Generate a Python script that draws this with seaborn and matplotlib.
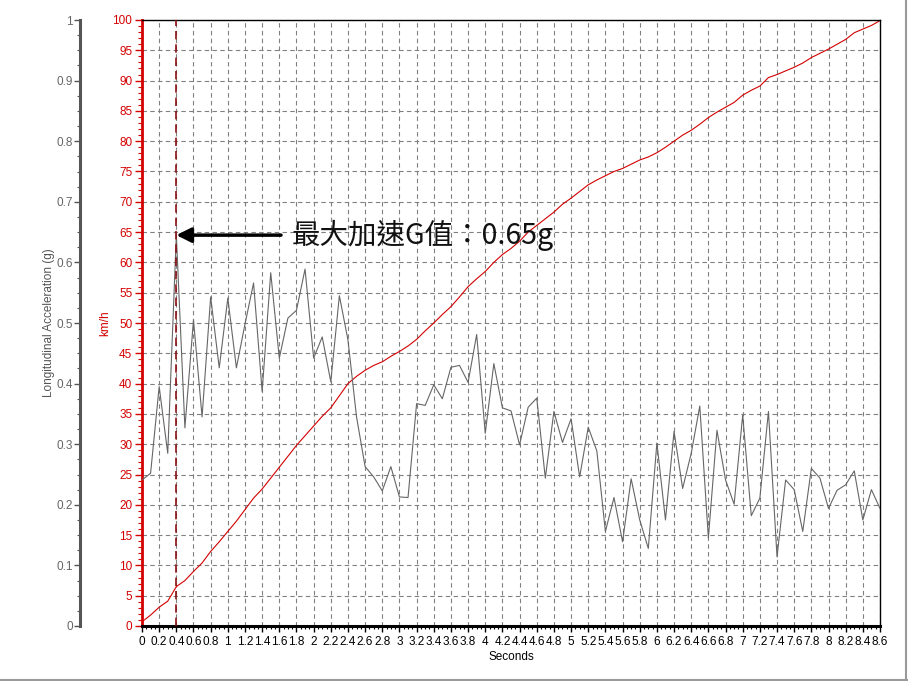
import numpy as np
import pandas as pd
import matplotlib
matplotlib.use("Agg")
import matplotlib.pyplot as plt
import seaborn as sns
from matplotlib.ticker import AutoMinorLocator, MultipleLocator, FuncFormatter
from matplotlib.lines import Line2D

sns.set_theme(style="white")
plt.rcParams['font.family'] = ['Liberation Sans', 'Noto Sans CJK TC', 'DejaVu Sans']

seconds = [0.0, 0.1, 0.2, 0.3, 0.4, 0.5, 0.6, 0.7, 0.8, 0.9,
           1.0, 1.1, 1.2, 1.3, 1.4, 1.5, 1.6, 1.7, 1.8, 1.9,
           2.0, 2.1, 2.2, 2.3, 2.4, 2.5, 2.6, 2.7, 2.8, 2.9,
           3.0, 3.1, 3.2, 3.3, 3.4, 3.5, 3.6, 3.7, 3.8, 3.9,
           4.0, 4.1, 4.2, 4.3, 4.4, 4.5, 4.6, 4.7, 4.8, 4.9,
           5.0, 5.1, 5.2, 5.3, 5.4, 5.5, 5.6, 5.7, 5.8, 5.9,
           6.0, 6.1, 6.2, 6.3, 6.4, 6.5, 6.6, 6.7, 6.8, 6.9,
           7.0, 7.1, 7.2, 7.3, 7.4, 7.5, 7.6, 7.7, 7.8, 7.9,
           8.0, 8.1, 8.2, 8.3, 8.4, 8.5, 8.6]

accel_g = [0.241, 0.252, 0.395, 0.285, 0.645, 0.327, 0.505, 0.345, 0.543, 0.426,
           0.541, 0.426, 0.498, 0.566, 0.387, 0.583, 0.442, 0.508, 0.521, 0.589,
           0.442, 0.477, 0.403, 0.545, 0.472, 0.345, 0.263, 0.246, 0.223, 0.263,
           0.213, 0.212, 0.367, 0.364, 0.398, 0.375, 0.427, 0.430, 0.402, 0.481,
           0.318, 0.433, 0.360, 0.355, 0.299, 0.361, 0.376, 0.244, 0.354, 0.303,
           0.342, 0.246, 0.328, 0.289, 0.156, 0.212, 0.139, 0.243, 0.175, 0.128,
           0.302, 0.175, 0.321, 0.227, 0.285, 0.363, 0.145, 0.323, 0.241, 0.201,
           0.348, 0.182, 0.211, 0.354, 0.114, 0.241, 0.225, 0.156, 0.260, 0.244,
           0.194, 0.224, 0.233, 0.256, 0.175, 0.225, 0.194]

speed_kmh = [0.7, 1.8, 3.1, 4.1, 6.5, 7.5, 9.0, 10.4, 12.3, 13.9,
             15.6, 17.3, 19.2, 21.1, 22.6, 24.4, 26.2, 28.0, 29.8, 31.4,
             33.0, 34.6, 36.0, 38.0, 40.0, 41.2, 42.2, 43.0, 43.6, 44.5,
             45.3, 46.2, 47.3, 48.7, 50.0, 51.4, 52.7, 54.3, 56.0, 57.3,
             58.5, 60.0, 61.3, 62.3, 63.5, 65.0, 66.1, 67.2, 68.3, 69.6,
             70.6, 71.7, 72.8, 73.6, 74.3, 75.0, 75.5, 76.2, 76.9, 77.4,
             78.1, 79.0, 80.0, 81.0, 81.8, 82.8, 83.9, 84.8, 85.6, 86.4,
             87.6, 88.4, 89.1, 90.5, 91.0, 91.6, 92.2, 92.9, 93.8, 94.5,
             95.2, 96.0, 96.8, 97.9, 98.5, 99.1, 99.9]

peak_time = 0.4
peak_g = 0.645
peak_text = "最大加速G值：0.65g"

df = pd.DataFrame({"Seconds": seconds, "accel": accel_g, "speed": speed_kmh})

RED = "#d40000"
GRAY_LINE = "#666666"

fig = plt.figure(figsize=(9.08, 6.81), dpi=100)
ax = fig.add_axes([142 / 908, 55 / 681, 738 / 908, 606 / 681])

# speed (km/h) on the inner red axis
sns.lineplot(data=df, x="Seconds", y="speed", ax=ax, color=RED, lw=0.8)
ax.set_xlim(0, 8.6)
ax.set_ylim(0, 100)

# acceleration (g) on the outer gray axis
ax2 = ax.twinx()
sns.lineplot(data=df, x="Seconds", y="accel", ax=ax2, color=GRAY_LINE, lw=0.8)
ax2.set_ylim(0, 1)
ax2.set_xlim(0, 8.6)

# grid
ax.xaxis.set_major_locator(MultipleLocator(0.2))
ax.xaxis.set_minor_locator(MultipleLocator(0.05))
ax.yaxis.set_major_locator(MultipleLocator(5))
ax.yaxis.set_minor_locator(AutoMinorLocator(5))
ax.grid(True, which="major", color="#808080", linestyle=(0, (4, 3)), lw=0.8)
ax.set_axisbelow(True)

fmt = FuncFormatter(lambda v, p: f"{v:.1f}".rstrip("0").rstrip("."))
ax.xaxis.set_major_formatter(fmt)
ax.tick_params(axis="x", which="major", bottom=True, length=4, width=1, color="black",
               labelsize=8.5, pad=3, labelcolor="black")
ax.tick_params(axis="x", which="minor", bottom=True, length=2, width=0.8, color="black")
ax.tick_params(axis="y", which="major", left=True, length=5, width=1, color=RED,
               labelsize=8.5, labelcolor=RED, pad=2)
ax.tick_params(axis="y", which="minor", left=True, length=3, width=0.8, color=RED)

ax.set_xlabel("Seconds", fontsize=8.5, color="black", labelpad=2)
ax.set_ylabel("km/h", fontsize=8.5, color=RED, labelpad=1)

for side in ["top", "right"]:
    ax.spines[side].set_color("black")
    ax.spines[side].set_linewidth(1)
ax.spines["bottom"].set_color("black")
ax.spines["bottom"].set_linewidth(2.2)
ax.spines["left"].set_color(RED)
ax.spines["left"].set_linewidth(2)

# outer acceleration axis on the left
ax2.yaxis.set_ticks_position("left")
ax2.yaxis.set_label_position("left")
ax2.spines["left"].set_position(("outward", 62 * 0.72))
ax2.spines["left"].set_visible(True)
ax2.spines["left"].set_color("#555555")
ax2.spines["left"].set_linewidth(2.2)
for side in ["top", "right", "bottom"]:
    ax2.spines[side].set_visible(False)
ax2.yaxis.set_major_locator(MultipleLocator(0.1))
ax2.yaxis.set_minor_locator(AutoMinorLocator(4))
ax2.yaxis.set_major_formatter(fmt)
ax2.tick_params(axis="y", which="major", left=True, right=False, length=4, width=1,
                color="#555555", labelsize=8.5, labelcolor="#666666", pad=1)
ax2.tick_params(axis="y", which="minor", left=True, right=False, length=2.5, width=0.8,
                color="#555555")
ax2.set_ylabel("Longitudinal Acceleration (g)", fontsize=8.5, color="#555555", labelpad=1)
ax2.grid(False)

# peak marker line and annotation
ax2.axvline(peak_time, color="#8b1010", lw=1.2, linestyle=(0, (5, 3)))
ax2.annotate("", xy=(peak_time, peak_g), xytext=(1.62, peak_g),
             arrowprops=dict(arrowstyle="-|>", color="black", lw=2.5,
                             mutation_scale=22, shrinkA=0, shrinkB=0))
ax2.text(1.75, peak_g, peak_text, fontsize=20.5, color="#111111", va="center", ha="left",
         family=["Noto Sans CJK TC", "DejaVu Sans"])

# window edge lines
fig.add_artist(Line2D([0, 1], [0.002, 0.002], transform=fig.transFigure, color="#9a9a9a", lw=1.5))
fig.add_artist(Line2D([0.998, 0.998], [0, 1], transform=fig.transFigure, color="#9a9a9a", lw=1.5))

fig.savefig("out.png", dpi=100)
